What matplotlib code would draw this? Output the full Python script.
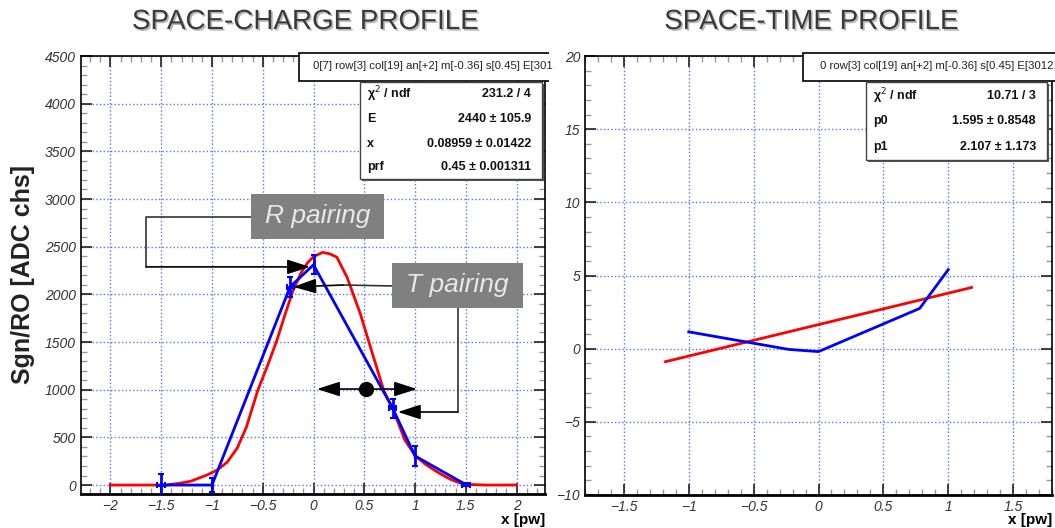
import matplotlib
matplotlib.use("Agg")
import matplotlib.pyplot as plt
import matplotlib.patheffects as pe
from matplotlib.patches import Rectangle
from matplotlib.ticker import MultipleLocator, FuncFormatter
from matplotlib.transforms import Bbox, TransformedBbox

plt.rcParams['font.family'] = ['Liberation Sans', 'DejaVu Sans']

# ---- data ----
# space-charge profile: measured points (blue) with errors
sc_x = [-1.5, -1.0, -0.23, 0.0, 0.78, 1.0, 1.5]
sc_y = [0, 0, 2080, 2310, 805, 305, 5]
sc_yerr = [115, 75, 105, 100, 100, 105, 20]
sc_xerr = [0.04, 0, 0.035, 0, 0.035, 0, 0.04]

# space-charge profile: fitted prf (red)
fit_x = [-2.0, -1.45, -1.31, -1.21, -1.05, -0.95, -0.85, -0.75, -0.66, -0.55,
         -0.45, -0.36, -0.28, -0.2, -0.12, -0.06, 0.0, 0.09, 0.16, 0.23,
         0.33, 0.46, 0.56, 0.69, 0.785, 0.9, 1.0, 1.1, 1.2, 1.27, 1.35,
         1.44, 1.55, 1.7, 2.0]
fit_y = [0, 0, 20, 40, 105, 157, 240, 390, 610, 990,
         1260, 1520, 1790, 2046, 2230, 2330, 2395, 2440, 2425, 2390,
         2180, 1800, 1450, 997, 787, 472, 310, 220, 150, 105, 60,
         22, 5, 0, 0]

# space-time profile
st_x = [-1.0, -0.23, 0.0, 0.78, 1.0]
st_y = [1.15, -0.05, -0.2, 2.75, 5.4]
st_fit_x = [-1.18, 1.18]
st_fit_y = [-0.89, 4.18]

sc_stats = [("\u03c7$^2$ / ndf", "231.2 / 4"), ("E", "2440 \u00b1 105.9"),
            ("x", "0.08959 \u00b1 0.01422"), ("prf", "0.45 \u00b1 0.001311")]
st_stats = [("\u03c7$^2$ / ndf", "10.71 / 3"), ("p0", "1.595 \u00b1 0.8548"),
            ("p1", "2.107 \u00b1 1.173")]
# info lines as far as they are visible before the pad edge
sc_info = "0[7] row[3] col[19] an[+2] m[-0.36] s[0.45] E[301"
st_info = "0 row[3] col[19] an[+2] m[-0.36] s[0.45] E[3012."

W, H = 1055, 528
fig = plt.figure(figsize=(W / 100, H / 100), dpi=100)
grid_col = (0.35, 0.45, 1.0)
num_fmt = FuncFormatter(lambda v, p: ("%g" % round(v, 6)).replace("-", "\u2212"))


def px_axes(x0, y0, x1, y1):
    return fig.add_axes([x0 / W, 1 - y1 / H, (x1 - x0) / W, (y1 - y0) / H])


def style(ax, xmaj, xmin, ymaj, ymin):
    ax.xaxis.set_major_locator(MultipleLocator(xmaj))
    ax.xaxis.set_minor_locator(MultipleLocator(xmin))
    ax.yaxis.set_major_locator(MultipleLocator(ymaj))
    ax.yaxis.set_minor_locator(MultipleLocator(ymin))
    ax.xaxis.set_major_formatter(num_fmt)
    ax.yaxis.set_major_formatter(num_fmt)
    ax.grid(True, which='major', color=grid_col, linestyle=':', linewidth=1.0)
    ax.tick_params(which='both', direction='in', top=True, right=True,
                   labelsize=10, labelcolor='#333333')
    ax.tick_params(which='major', length=8, width=1.2, color='#222222')
    ax.tick_params(which='minor', length=4, width=1.0, color='#999999')
    for lab in ax.get_xticklabels() + ax.get_yticklabels():
        lab.set_fontstyle('italic')
    for s in ax.spines.values():
        s.set_linewidth(1.2)
    ax.spines['bottom'].set_linewidth(2)


# ---- left: space-charge ----
ax1 = px_axes(81, 56, 545, 494)
ax1.set_xlim(-2.29, 2.28)
ax1.set_ylim(-94, 4500)
style(ax1, 0.5, 0.1, 500, 100)
ax1.plot(fit_x, fit_y, color='red', lw=2, zorder=3)
ax1.plot(sc_x, sc_y, color='blue', lw=2, zorder=4)
ax1.errorbar(sc_x, sc_y, yerr=sc_yerr, xerr=sc_xerr, fmt='none', ecolor='blue',
             elinewidth=2, capsize=2.5, capthick=1.5, zorder=4)
ax1.set_ylabel("Sgn/RO [ADC chs]", fontsize=18, fontweight='bold', color='#222222')
ax1.yaxis.set_label_coords(-0.10, 0.5)
ax1.set_xlabel("x [pw]", fontsize=11, fontweight='bold', loc='right')
ax1.xaxis.set_label_coords(1.0, -0.043)

# annotation boxes and connectors
arrow = dict(arrowstyle='-|>,head_length=1.4,head_width=0.45', mutation_scale=10,
             color='black', lw=1.2, shrinkA=0, shrinkB=0)
for (bx, by, bw, bh, label) in [(-0.615, 2581, 1.308, 473, "R pairing"),
                                (0.772, 1857, 1.288, 473, "T pairing")]:
    ax1.add_patch(Rectangle((bx, by), bw, bh, facecolor='#808080',
                            edgecolor='none', zorder=6))
    ax1.text(bx + bw / 2, by + bh / 2, label, fontsize=19, fontstyle='italic',
             color='#e8e8e8', ha='center', va='center', zorder=7)

ax1.plot([-0.615, -1.647, -1.647], [2812, 2812, 2288], color='#333333', lw=1.2, zorder=5)
ax1.annotate('', xy=(-0.034, 2288), xytext=(-1.647, 2288), arrowprops=arrow, zorder=5)
ax1.plot([0.772, 0.29], [2088, 2098], color='#333333', lw=1.2, zorder=5)
ax1.annotate('', xy=(-0.2, 2078), xytext=(0.29, 2098), arrowprops=arrow, zorder=5)
ax1.plot([1.42, 1.42], [1857, 766], color='#333333', lw=1.2, zorder=5)
ax1.annotate('', xy=(0.83, 766), xytext=(1.42, 766), arrowprops=arrow, zorder=5)
ax1.annotate('', xy=(0.034, 1007), xytext=(1.02, 1007),
             arrowprops=dict(arrowstyle='<|-|>,head_length=1.4,head_width=0.45',
                             mutation_scale=10, color='black', lw=1.2,
                             shrinkA=0, shrinkB=0), zorder=5)
ax1.plot([0.516], [1007], 'o', color='black', markersize=10, zorder=6)

# ---- right: space-time ----
ax2 = px_axes(585, 56, 1052, 495)
ax2.set_xlim(-1.8, 1.8)
ax2.set_ylim(-10, 20)
style(ax2, 0.5, 0.1, 5, 1)
ax2.plot(st_fit_x, st_fit_y, color='red', lw=2, zorder=3)
ax2.plot(st_x, st_y, color='blue', lw=2, zorder=4)
ax2.set_xlabel("x [pw]", fontsize=11, fontweight='bold', loc='right')
ax2.xaxis.set_label_coords(1.0, -0.041)

# ---- overlay for titles and stat boxes (pixel coordinates) ----
ov = fig.add_axes([0, 0, 1, 1], zorder=10)
ov.set_xlim(0, W)
ov.set_ylim(H, 0)
ov.axis('off')

shadow = [pe.SimplePatchShadow(offset=(1.2, -1.2), shadow_rgbFace='#888888', alpha=0.6),
          pe.Normal()]
ov.text(305, 22, "SPACE-CHARGE PROFILE", fontsize=20, color='#3a3a3a',
        ha='center', va='center', path_effects=shadow)
ov.text(811, 22, "SPACE-TIME PROFILE", fontsize=20, color='#3a3a3a',
        ha='center', va='center', path_effects=shadow)


def stat_boxes(pad_x1, info_x0, text_off, info, fit_x0, fit_x1, fit_y1, rows, row_y):
    clip = TransformedBbox(Bbox([[0, 0], [pad_x1, H]]), ov.transData)
    r = Rectangle((info_x0, 53), 400, 28, facecolor='white', edgecolor='black', lw=1.2)
    ov.add_patch(r)
    r.set_clip_box(clip)
    ov.text(info_x0 + text_off, 66, info, fontsize=8.2, color='#222222',
            ha='left', va='center')
    ov.add_patch(Rectangle((fit_x0 + 2, 84), fit_x1 - fit_x0, fit_y1 - 82,
                           facecolor='#555555', edgecolor='none'))
    ov.add_patch(Rectangle((fit_x0, 82), fit_x1 - fit_x0, fit_y1 - 82,
                           facecolor='white', edgecolor='#444444', lw=1.0))
    for (name, val), y in zip(rows, row_y):
        ov.text(fit_x0 + 7, y, name, fontsize=9, fontweight='bold',
                color='#111111', ha='left', va='center')
        ov.text(fit_x1 - 11, y, val, fontsize=9, fontweight='bold',
                color='#111111', ha='right', va='center')


stat_boxes(549, 299, 14, sc_info, 360, 542, 179, sc_stats, [94, 119, 144, 167])
stat_boxes(W, 803, 17, st_info, 866, 1047, 160, st_stats, [96, 121, 147])

fig.savefig("out.png", dpi=100)
